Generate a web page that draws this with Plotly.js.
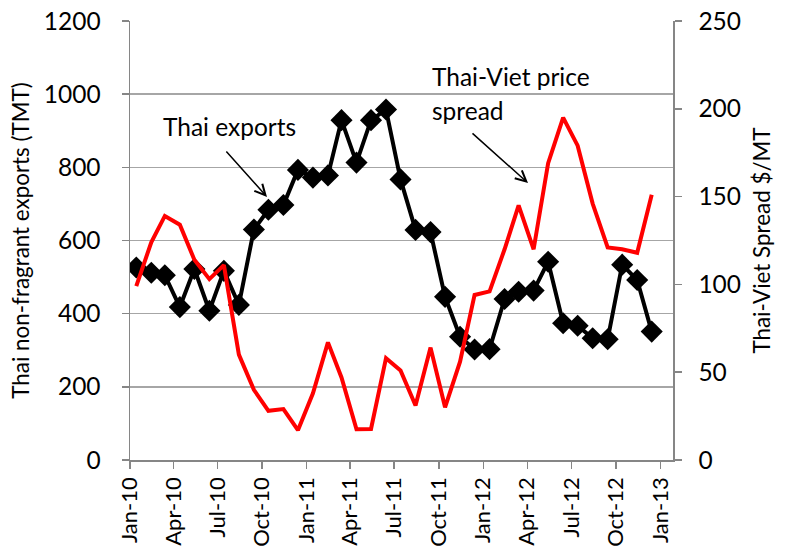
<!DOCTYPE html>
<html>
<head>
<meta charset="utf-8">
<script src="https://cdn.plot.ly/plotly-3.0.1.min.js"></script>
<style>html,body{margin:0;padding:0;background:#fff;}#chart{width:786px;height:548px;}</style>
</head>
<body>
<div id="chart"></div>
<script>
// Monthly observations (mid-month), Jan 2010 - Dec 2012
const months = [
  '2010-01-14','2010-02-14','2010-03-14','2010-04-14','2010-05-14','2010-06-14',
  '2010-07-14','2010-08-14','2010-09-14','2010-10-14','2010-11-14','2010-12-14',
  '2011-01-14','2011-02-14','2011-03-14','2011-04-14','2011-05-14','2011-06-14',
  '2011-07-14','2011-08-14','2011-09-14','2011-10-14','2011-11-14','2011-12-14',
  '2012-01-14','2012-02-14','2012-03-14','2012-04-14','2012-05-14','2012-06-14',
  '2012-07-14','2012-08-14','2012-09-14','2012-10-14','2012-11-14','2012-12-14'
];
// Thai non-fragrant exports (TMT), left axis
const thaiExports = [
  526, 512, 505, 418, 522, 408, 517, 424, 630, 684, 697, 793,
  772, 778, 929, 813, 929, 958, 767, 629, 623, 446, 337, 302,
  303, 440, 460, 463, 542, 374, 367, 333, 330, 534, 492, 351
];
// Thai-Viet price spread ($/MT), right axis
const spread = [
  99, 124, 139, 134, 114, 103, 111, 60, 40, 28, 29, 17,
  38, 67, 47, 17.5, 17.7, 58, 51, 31, 64, 30, 56, 94,
  96, 120, 145, 120, 169, 195, 179, 146, 121, 120, 118, 151
];
const leftTitle = 'Thai non-fragrant exports (TMT)';
const rightTitle = 'Thai-Viet Spread $/MT';

const FONT = 'Lato, "Open Sans", sans-serif';
const AXC = '#868686';
const FS = 24.5;

const traces = [
  {
    x: months, y: thaiExports, type: 'scatter', mode: 'lines+markers',
    name: 'Thai exports', yaxis: 'y',
    line: {color: '#000000', width: 4},
    marker: {symbol: 'diamond', size: 17, color: '#000000'}
  },
  {
    x: months, y: spread, type: 'scatter', mode: 'lines',
    name: 'Thai-Viet price spread', yaxis: 'y2',
    line: {color: '#ff0000', width: 4}
  }
];

const layout = {
  width: 786, height: 548,
  margin: {l: 130, r: 113, t: 21, b: 88, pad: 0},
  paper_bgcolor: '#ffffff', plot_bgcolor: '#ffffff',
  showlegend: false,
  font: {family: FONT, size: FS, color: '#000'},
  xaxis: {
    type: 'date', range: ['2010-01-01', '2013-01-27'],
    tick0: '2010-01-01', dtick: 'M3', tickformat: '%b-%y',
    tickangle: -90, ticks: 'outside', ticklen: 7, tickcolor: AXC, tickwidth: 1.5,
    ticklabelstandoff: 0,
    showline: true, linecolor: AXC, linewidth: 1.5,
    showgrid: false, zeroline: false,
    tickfont: {family: FONT, size: 22, color: '#000'}
  },
  yaxis: {
    range: [0, 1200], dtick: 200, tick0: 0,
    ticks: 'outside', ticklen: 7, tickcolor: AXC, tickwidth: 1.5,
    ticklabelstandoff: 16,
    showline: true, linecolor: AXC, linewidth: 1.5,
    showgrid: true, gridcolor: '#a6a6a6', gridwidth: 1.5, zeroline: false,
    tickfont: {family: FONT, size: FS, color: '#000'},
    title: {text: leftTitle, font: {family: FONT, size: 22.4, color: '#000'}, standoff: 8}
  },
  yaxis2: {
    overlaying: 'y', side: 'right',
    range: [0, 250], dtick: 50, tick0: 0,
    ticks: 'outside', ticklen: 7, tickcolor: AXC, tickwidth: 1.5,
    ticklabelstandoff: 12,
    showline: true, linecolor: AXC, linewidth: 1.5,
    showgrid: false, zeroline: false,
    tickfont: {family: FONT, size: FS, color: '#000'},
    title: {text: rightTitle, font: {family: FONT, size: 22.4, color: '#000'}, standoff: 14}
  },
  annotations: [
    {xref: 'paper', yref: 'paper', x: (229 - 130) / 543, y: (460 - 127) / 439,
     text: 'Thai exports', showarrow: false, xanchor: 'center', yanchor: 'middle',
     font: {family: FONT, size: FS, color: '#000'}},
    {xref: 'paper', yref: 'paper', x: (267 - 130) / 543, y: (460 - 197) / 439,
     axref: 'pixel', ayref: 'pixel', ax: -42, ay: -47,
     text: '', showarrow: true, arrowhead: 5, arrowsize: 1.4, arrowwidth: 1.5, arrowcolor: '#000'},
    {xref: 'paper', yref: 'paper', x: (430 - 130) / 543, y: (460 - 76) / 439,
     text: 'Thai-Viet price', showarrow: false, xanchor: 'left', yanchor: 'middle',
     font: {family: FONT, size: FS, color: '#000'}},
    {xref: 'paper', yref: 'paper', x: (430 - 130) / 543, y: (460 - 110) / 439,
     text: 'spread', showarrow: false, xanchor: 'left', yanchor: 'middle',
     font: {family: FONT, size: FS, color: '#000'}},
    {xref: 'paper', yref: 'paper', x: (528 - 130) / 543, y: (460 - 183) / 439,
     axref: 'pixel', ayref: 'pixel', ax: -57, ay: -51,
     text: '', showarrow: true, arrowhead: 5, arrowsize: 1.4, arrowwidth: 1.5, arrowcolor: '#000'}
  ]
};

Plotly.newPlot('chart', traces, layout, {staticPlot: true, displayModeBar: false});
</script>
</body>
</html>
